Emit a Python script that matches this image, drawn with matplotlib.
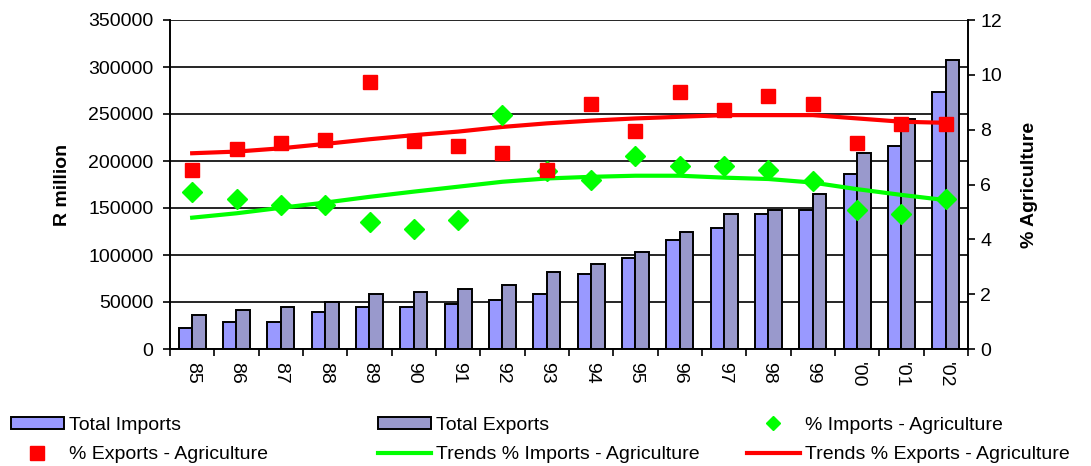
import numpy as np
import matplotlib
matplotlib.use("Agg")
import matplotlib.pyplot as plt
from matplotlib.lines import Line2D
from matplotlib.patches import Patch

plt.rcParams['font.family'] = ['Liberation Sans', 'DejaVu Sans']
plt.rcParams['font.size'] = 14

years = ["85", "86", "87", "88", "89", "90", "91", "92", "93", "94",
         "95", "96", "97", "98", "99", "'00", "'01", "'02"]

# R million
imports = [22000, 28700, 28700, 39700, 44300, 44300, 47900, 52100, 58800, 79800,
           97100, 116000, 129000, 143300, 147500, 186500, 216300, 273400]
exports = [35800, 41800, 44300, 50300, 58800, 61000, 63500, 67700, 81600, 90100,
           103500, 124800, 143300, 147500, 165200, 208800, 244400, 307400]

# share of agriculture, %
pct_imp = [5.74, 5.46, 5.25, 5.25, 4.64, 4.38, 4.72, 8.53, 6.49, 6.16,
           7.04, 6.69, 6.69, 6.54, 6.13, 5.06, 4.91, 5.46]
pct_exp = [6.52, 7.28, 7.50, 7.62, 9.73, 7.59, 7.42, 7.14, 6.53, 8.92,
           7.96, 9.38, 8.72, 9.24, 8.92, 7.52, 8.21, 8.21]

trend_imp = [4.79, 4.95, 5.15, 5.34, 5.55, 5.74, 5.92, 6.10, 6.22, 6.28,
             6.32, 6.32, 6.25, 6.20, 6.07, 5.83, 5.62, 5.43]
trend_exp = [7.14, 7.20, 7.32, 7.48, 7.65, 7.80, 7.93, 8.10, 8.23, 8.33,
             8.41, 8.47, 8.53, 8.53, 8.53, 8.41, 8.29, 8.25]

imp_col = '#9999FF'
exp_col = '#9999CC'

x = np.arange(len(years))
w = 0.305

fig = plt.figure(figsize=(10.91, 4.66), dpi=100)
ax = fig.add_axes([170/1091, 1-349/466, 798/1091, 329/466])
ax2 = ax.twinx()

ax.bar(x - w/2, imports, w, color=imp_col, edgecolor='black', linewidth=1.4)
ax.bar(x + w/2, exports, w, color=exp_col, edgecolor='black', linewidth=1.4)

ax.set_ylim(0, 350000)
ax.set_yticks(np.arange(0, 350001, 50000))
ax.set_xlim(-0.5, len(years) - 0.5)
ax.set_xticks(np.arange(-0.5, len(years), 1))
ax.set_xticklabels([])
ax.set_xticks(x, minor=True)
ax.set_xticklabels(years, minor=True, rotation=270, va='top', ha='center')
ax.tick_params(axis='x', which='major', direction='out', length=5, width=1.2)
ax.tick_params(axis='x', which='minor', length=0, pad=9)
ax.tick_params(axis='y', direction='out', length=5, width=1.2, pad=7)
ax.grid(axis='y', color='black', linewidth=1.2)
ax.set_axisbelow(True)

for a in (ax, ax2):
    a.spines['top'].set_visible(False)
    for s in ('left', 'right', 'bottom'):
        a.spines[s].set_linewidth(1.2)

ax.set_ylabel("R million", fontweight='bold')
ax.yaxis.set_label_coords(-0.124, 0.5)

ax2.plot(x, trend_imp, color='#00FF00', linewidth=3, zorder=2)
ax2.plot(x, trend_exp, color='#FF0000', linewidth=3, zorder=2)
ax2.plot(x, pct_imp, linestyle='none', marker='D', ms=10.5, color='#00FF00', zorder=3)
ax2.plot(x, pct_exp, linestyle='none', marker='s', ms=10, color='#FF0000', zorder=3)
ax2.set_ylim(0, 12)
ax2.set_yticks(np.arange(0, 13, 2))
ax2.tick_params(axis='y', direction='out', length=5, width=1.2, pad=4)
ax2.set_ylabel("% Agriculture", fontweight='bold')
ax2.yaxis.set_label_coords(1.066, 0.5)

# legend, three columns of two entries
h_imp = Patch(facecolor=imp_col, edgecolor='black', linewidth=1.4)
h_exp = Patch(facecolor=exp_col, edgecolor='black', linewidth=1.4)
h_pimp = Line2D([], [], linestyle='none', marker='D', ms=7, color='#00FF00')
h_pexp = Line2D([], [], linestyle='none', marker='s', ms=9.5, color='#FF0000')
h_timp = Line2D([], [], color='#00FF00', linewidth=3)
h_texp = Line2D([], [], color='#FF0000', linewidth=3)

columns = [
    (11, [h_imp, h_pexp], ["Total Imports", "% Exports - Agriculture"]),
    (378, [h_exp, h_timp], ["Total Exports", "Trends % Imports - Agriculture"]),
    (747, [h_pimp, h_texp], ["% Imports - Agriculture", "Trends % Exports - Agriculture"]),
]
for xpos, hs, labels in columns:
    fig.legend(hs, labels, loc='center left', bbox_to_anchor=(xpos/1091, 1-440/466),
               frameon=False, borderpad=0, borderaxespad=0, handlelength=2.7,
               handleheight=0.62, handletextpad=0.3, labelspacing=0.62, numpoints=1)

fig.savefig("out.png", dpi=100)
